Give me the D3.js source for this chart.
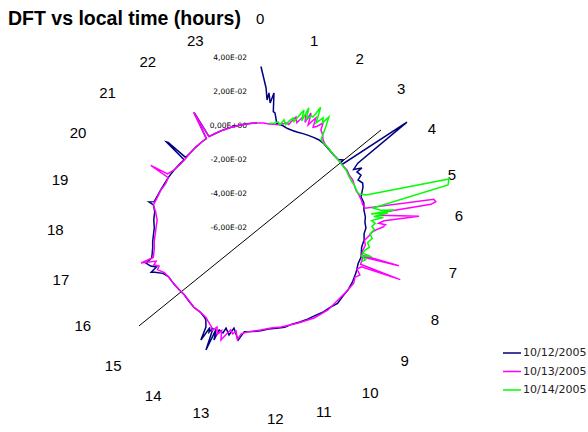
<!DOCTYPE html>
<html>
<head>
<meta charset="utf-8">
<script src="https://cdn.jsdelivr.net/npm/d3@7"></script>
<style>
  html, body { margin: 0; padding: 0; background: #fff; }
  svg { display: block; }
</style>
</head>
<body>
<svg id="chart" width="588" height="432"></svg>
<script>
// ---------- DATA ----------
const title = "DFT vs local time (hours)";
const hourLabels = ["0","1","2","3","4","5","6","7","8","9","10","11","12","13","14","15","16","17","18","19","20","21","22","23"];
const radialTicks = [0.04, 0.02, 0, -0.02, -0.04, -0.06];
const radialTickLabels = ["4,00E-02","2,00E-02","0,00E+00","-2,00E-02","-4,00E-02","-6,00E-02"];
const seriesNames = ["10/12/2005", "10/13/2005", "10/14/2005"];
const seriesColors = ["#000080", "#FF00FF", "#00FF00"];

// [hour, value]
const s1012 = [
  [0.07,0.035],[0.22,0.0225],[0.27,0.0155],[0.31,0.0197],[0.37,0.0139],[0.45,0.020],[0.5,0.009],[0.56,0.0084],[0.68,0.0025],
  [0.9,0.002],[1.1,0.001],[1.3,0.0008],[1.5,0.001],[1.7,0.0015],[1.9,0.002],[2.1,0.0025],[2.3,0.003],[2.5,0.003],[2.7,0.0025],
  [2.9,0.002],[3.1,0.0018],[3.3,0.002],[3.42,0.004],[3.46,0.002],[3.53,0.002],[3.64,0.0475],[3.8,0.010],[3.9,0.006],[4.0,0.0106],
  [4.03,0.0069],[4.19,0.0081],[4.29,0.0053],[4.45,0.007],[4.58,0.0063],[4.88,0.0033],[5.1,0.004],[5.36,0.0032],[5.6,0.0035],
  [5.8,0.003],[6.0,0.0035],[6.2,0.0025],[6.43,0.0028],[6.7,0.002],[7.05,0.003],[7.3,0.0025],[7.65,0.0034],[8.0,0.004],
  [8.3,0.0043],[8.6,0.004],[8.9,0.0045],[9.2,0.003],[9.5,0.0025],[9.8,0.0015],[10.1,0.001],[10.4,0.0005],[10.7,0.0],
  [11.0,0.0005],[11.3,0.0],[11.6,-0.0003],[11.9,0.0005],[12.2,0.001],[12.5,0.0015],[12.67,0.007],[12.9,0.0005],[13.01,0.0052],
  [13.18,0.0018],[13.23,0.0051],[13.39,0.0042],[13.43,0.0108],[13.5,0.0045],[13.54,0.018],[13.61,0.0045],[13.68,0.0076],
  [13.72,0.005],[13.8,0.014],[13.85,0.0058],[13.97,0.0022],[14.1,0.001],[14.3,0.0],[14.6,0.0],[14.9,-0.0008],[15.2,-0.0015],
  [15.5,-0.001],[15.8,-0.0005],[16.1,0.0],[16.3,0.002],[16.45,0.006],[16.5,0.008],[16.6,0.004],[16.7,0.007],[16.84,0.009],
  [16.95,0.005],[17.1,0.004],[17.3,0.003],[17.5,0.0025],[17.8,0.0015],[18.0,0.001],[18.3,0.0015],[18.6,0.0015],[18.83,0.003],
  [18.9,0.006],[18.95,0.003],[19.2,0.002],[19.43,0.0015],[19.7,0.0008],[20.0,0.0005],[20.3,0.0],[20.6,-0.0005],[20.85,-0.0008],
  [20.88,0.014],[20.91,0.013],[20.95,-0.0005],[21.2,-0.0005],[21.5,0.0],[21.8,0.0005],[22.0,0.0008],[22.07,0.0175],[22.12,0.001],
  [22.4,0.001],[22.7,0.0012],[23.0,0.0013],[23.4,0.0015],[23.7,0.0016],[23.98,0.0018]
];
const s1013 = [
  [0.0,0.0018],[0.2,0.0018],[0.4,0.0015],[0.6,0.0018],[0.75,0.002],[0.9,0.003],[1.0,0.004],[1.1,0.0035],[1.15,0.0053],
  [1.26,0.009],[1.35,0.006],[1.45,0.01],[1.53,0.012],[1.6,0.008],[1.65,0.0145],[1.73,0.0074],[1.8,0.011],[1.85,0.0132],
  [1.91,0.0076],[2.0,0.009],[2.12,0.0126],[2.18,0.0085],[2.3,0.007],[2.43,0.0044],[2.6,0.003],[2.8,0.0025],[3.0,0.002],
  [3.2,0.002],[3.4,0.002],[3.6,0.002],[3.8,0.0025],[4.0,0.002],[4.2,0.0025],[4.4,0.002],[4.6,0.0018],[4.8,0.0025],
  [5.0,0.003],[5.17,0.0032],[5.3,0.004],[5.38,0.0448],[5.44,0.0457],[5.48,0.0427],[5.52,0.015],[5.6,0.012],[5.72,0.035],
  [5.78,0.0143],[5.85,0.011],[5.9,0.015],[5.97,0.0135],[6.06,0.0094],[6.15,0.007],[6.3,0.005],[6.45,0.003],[6.6,0.004],
  [6.8,0.003],[6.97,0.003],[7.0,0.0258],[7.03,0.004],[7.15,0.004],[7.3,0.004],[7.33,0.029],[7.37,0.005],[7.5,0.003],
  [7.65,0.006],[7.8,0.004],[8.0,0.005],[8.4,0.004],[8.8,0.0033],[9.3,0.0034],[9.87,0.0024],[10.5,0.0006],[11.13,-0.0002],
  [11.5,-0.0007],[11.9,0.0],[12.4,0.0015],[12.6,0.003],[12.7,0.0066],[12.8,0.002],[12.9,0.004],[13.0,0.002],[13.1,0.005],
  [13.22,0.0094],[13.3,0.004],[13.4,0.007],[13.5,0.003],[13.6,0.006],[13.7,0.004],[13.8,0.003],[13.9,0.002],[14.0,0.001],
  [14.3,0.0],[14.6,0.0],[14.9,-0.001],[15.2,-0.0015],[15.5,-0.001],[15.8,-0.0005],[16.1,0.0],[16.3,0.001],[16.5,0.004],
  [16.6,0.0023],[16.7,0.005],[16.8,0.003],[16.89,0.0118],[16.95,0.004],[17.1,0.003],[17.3,0.002],[17.5,0.0016],[17.8,0.0005],
  [18.0,0.0],[18.3,-0.0005],[18.6,0.001],[18.83,0.003],[19.1,0.002],[19.43,0.0013],[19.7,0.0003],[19.95,0.0005],[20.02,0.013],
  [20.06,0.002],[20.3,0.0],[20.6,-0.0008],[20.9,-0.001],[21.2,-0.0005],[21.5,0.0],[21.8,0.0005],[22.0,0.0008],[22.06,0.018],
  [22.12,0.001],[22.4,0.001],[22.7,0.0012],[23.0,0.0013],[23.37,0.0014],[23.7,0.0016],[23.98,0.0018]
];
const s1014 = [
  [0.4,0.002],[0.6,0.0025],[0.71,0.0035],[0.8,0.002],[0.9,0.0055],[1.0,0.003],[1.1,0.006],[1.18,0.0079],[1.25,0.006],
  [1.32,0.0094],[1.42,0.0145],[1.48,0.008],[1.53,0.0167],[1.6,0.01],[1.7,0.013],[1.76,0.0129],[1.83,0.020],[1.93,0.0106],
  [2.04,0.0152],[2.1,0.0126],[2.17,0.0175],[2.25,0.012],[2.37,0.0037],[2.6,0.003],[2.8,0.0025],[3.0,0.002],[3.2,0.0018],
  [3.4,0.0018],[3.6,0.0018],[3.8,0.002],[4.0,0.0015],[4.2,0.0015],[4.4,0.002],[4.6,0.002],[4.75,0.0025],[4.87,0.0065],
  [5.04,0.056],[5.15,0.0546],[5.34,0.0087],[5.45,0.013],[5.5,0.0207],[5.53,0.007],[5.56,0.017],[5.62,0.0085],[5.68,0.014],
  [5.75,0.007],[5.85,0.009],[5.95,0.007],[6.05,0.0085],[6.2,0.006],[6.35,0.0075],[6.5,0.005],[6.65,0.0065],[6.8,0.004],
  [6.9,0.0035],[6.95,0.009],[7.0,0.003],[7.1,0.006],[7.2,0.004]
];
const seriesData = [s1012, s1013, s1014];
// reference straight line (two [hour, value] endpoints)
const refLine = [[3.43, 0.0325], [15.37, 0.0306]];

// ---------- LAYOUT ----------
const svg = d3.select("#chart");
const cx = 258, cy = 228;
const rMax = 170;
const r = d3.scaleLinear().domain([-0.06, 0.04]).range([0, rMax]);
const ang = d3.scaleLinear().domain([0, 24]).range([0, 2 * Math.PI]);

svg.append("text")
  .attr("x", 8).attr("y", 25)
  .attr("font-family", "Liberation Sans, Arial, sans-serif")
  .attr("font-weight", "bold")
  .attr("font-size", 19.5)
  .attr("fill", "#000")
  .text(title);

// hour labels: placement (angle in hours, distance) as laid out in the original
const labCx = 257, labCy = 221;
const labelAt = [0.06,1.18,2.17,3.18,4.17,5.13,5.93,7.01,7.95,8.91,9.79,10.72,11.65,13.08,14.04,14.97,15.91,16.87,17.81,18.77,19.73,20.69,21.69,22.73];
const labelDist = [201,188,191,195,197,200,202,203,204,204,207,203,200,201,204,205,204,205,202,201,199,196,192,189];
svg.append("g").selectAll("text").data(hourLabels).join("text")
  .attr("x", (d, i) => labCx + labelDist[i] * Math.sin(ang(labelAt[i])))
  .attr("y", (d, i) => labCy - labelDist[i] * Math.cos(ang(labelAt[i])))
  .attr("text-anchor", "middle")
  .attr("dominant-baseline", "middle")
  .attr("font-family", "Liberation Sans, Arial, sans-serif")
  .attr("font-size", 15)
  .attr("fill", "#000")
  .text(d => d);

const g = svg.append("g").attr("transform", `translate(${cx},${cy})`);

// radial tick labels
g.append("g").selectAll("text").data(radialTicks).join("text")
  .attr("x", -11)
  .attr("y", d => -r(d))
  .attr("text-anchor", "end")
  .attr("dominant-baseline", "middle")
  .attr("font-family", "DejaVu Sans, Verdana, sans-serif")
  .attr("font-size", 7.5)
  .attr("fill", "#000")
  .text((d, i) => radialTickLabels[i]);

const line = d3.lineRadial()
  .angle(d => ang(d[0]))
  .radius(d => r(d[1]));

// reference line
g.append("path")
  .attr("d", line(refLine))
  .attr("fill", "none")
  .attr("stroke", "#000")
  .attr("stroke-width", 1);

// series
seriesData.forEach((s, i) => {
  g.append("path")
    .attr("d", line(s))
    .attr("fill", "none")
    .attr("stroke", seriesColors[i])
    .attr("stroke-width", 1.5)
    .attr("stroke-linejoin", "miter")
    .attr("stroke-miterlimit", 4);
});

// legend
const leg = svg.append("g").attr("transform", "translate(503,353)");
seriesNames.forEach((n, i) => {
  const y = i * 18.5;
  leg.append("line").attr("x1", 0).attr("x2", 18).attr("y1", y).attr("y2", y)
    .attr("stroke", seriesColors[i]).attr("stroke-width", 1.5);
  leg.append("text").attr("x", 20).attr("y", y)
    .attr("dominant-baseline", "middle")
    .attr("font-family", "DejaVu Sans, Verdana, sans-serif")
    .attr("font-size", 11)
    .attr("fill", "#222")
    .text(n);
});
</script>
</body>
</html>
